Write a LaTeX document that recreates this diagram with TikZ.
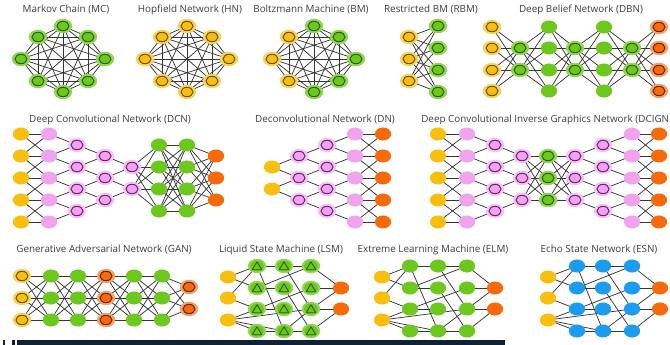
\documentclass[tikz,border=0pt]{standalone}
\usepackage{fontspec}
\setmainfont{Open Sans}
\usetikzlibrary{shapes.geometric}
\definecolor{cy}{HTML}{F8BF0E}
\definecolor{cyh}{HTML}{F6D35C}
\definecolor{cyd}{HTML}{6E5200}
\definecolor{cg}{HTML}{6CC81C}
\definecolor{cgh}{HTML}{8FD653}
\definecolor{cgd}{HTML}{2C6008}
\definecolor{cp}{HTML}{F2A3EF}
\definecolor{cph}{HTML}{F5C3F3}
\definecolor{cpd}{HTML}{6E2275}
\definecolor{co}{HTML}{F76A0C}
\definecolor{coh}{HTML}{F3A06A}
\definecolor{cod}{HTML}{6A2400}
\definecolor{cb}{HTML}{1C9CF0}
\definecolor{ce}{HTML}{353535}
\definecolor{ct}{HTML}{3E3E3E}
\definecolor{cbar}{HTML}{0E2233}
\pgfdeclarelayer{bgl}
\pgfdeclarelayer{edges}
\pgfsetlayers{bgl,edges,main}
\tikzset{
  cell/.style={ellipse, minimum width=12.2pt, minimum height=9.8pt, inner sep=0pt},
  bigcell/.style={ellipse, minimum width=13.8pt, minimum height=10.8pt, inner sep=0pt},
  yel/.style={cell, fill=cy},
  grn/.style={cell, fill=cg},
  pnk/.style={cell, fill=cp},
  org/.style={cell, fill=co},
  blu/.style={cell, fill=cb},
  ringin/.style 2 args={path picture={\draw[#2, line width=0.75pt, fill=#1] (path picture bounding box.center) ellipse [x radius=4.5pt, y radius=3.5pt];}},
  yring/.style={bigcell, fill=cyh, ringin={cy}{cyd}},
  gring/.style={bigcell, fill=cgh, ringin={cg}{cgd}},
  pring/.style={bigcell, fill=cph, ringin={cp}{cpd}},
  oring/.style={bigcell, fill=coh, ringin={co}{cod}},
  tri/.style={bigcell, fill=cgh, path picture={\fill[cg] (path picture bounding box.center) ellipse [x radius=5.2pt, y radius=4.1pt];
      \draw[cgd, line width=0.7pt, line join=round] ([yshift=3.2pt]path picture bounding box.center) -- ++(-3.6pt,-6pt) -- ++(7.2pt,0pt) -- cycle;}},
  title/.style={font=\fontsize{7.4}{9}\selectfont, text=ct, inner sep=0pt},
  lnk/.style={draw=ce, line width=0.55pt}
}
\newcommand\netfull[4]{\foreach \i in {1,...,#2}{\foreach \j in {1,...,#4}{\draw[lnk] (#1\i.center) -- (#3\j.center);}}}
\newcommand\netband[3]{\foreach \i/\j in #3 {\draw[lnk] (#1\i.center) -- (#2\j.center);}}
\newcommand\netclique[1]{\foreach \i in {1,...,7}{\pgfmathtruncatemacro\nxt{\i+1}\foreach \j in {\nxt,...,8}{\draw[lnk] (#1\i.center) -- (#1\j.center);}}}
\newcommand\netsparse[1]{\foreach \a/\b in {Y1/H11,Y1/H12,Y2/H11,Y2/H13,Y3/H13,Y3/H14,Y3/H24,Y3/H33,
  H11/H21,H21/H31,H11/H24,H12/H22,H12/H31,H13/H23,H13/H32,H14/H24,H24/H34,H22/H34,H21/H33,H24/H33,
  H31/O1,H32/O1,H33/O1,H33/O2,H34/O2}{\draw[lnk] (#1\a.center) -- (#1\b.center);}}
\def\pairsFF{1/1,1/2,2/1,2/2,2/3,3/2,3/3,3/4,4/3,4/4,4/5,5/4,5/5}
\def\pairsFQ{1/1,2/1,2/2,3/2,3/3,4/3,4/4,5/4}
\def\pairsQT{1/1,2/1,2/2,3/2,3/3,4/3}
\def\pairsTD{1/1,2/1,2/2,3/2}
\def\pairsDT{1/1,1/2,2/2,2/3}
\def\pairsTQ{1/1,1/2,2/2,2/3,3/3,3/4}
\def\pairsQF{1/1,1/2,2/2,2/3,3/3,3/4,4/4,4/5}
\begin{document}
\begin{tikzpicture}[x=0.75pt,y=-0.75pt]
\begin{pgfonlayer}{bgl}
\fill[white] (0,0) rectangle (670,345);
\end{pgfonlayer}
\useasboundingbox (0,0) rectangle (670,345);

% ---------- titles ----------
\node[title] (tmc) at (66,10) {Markov Chain (MC)};
\node[title] (thn) at (190,10) {Hopfield Network (HN)};
\node[title] (tbm) at (311,10) {Boltzmann Machine (BM)};
\node[title] (trbm) at (431,10) {Restricted BM (RBM)};
\node[title] (tdbn) at (581,10) {Deep Belief Network (DBN)};
\node[title] (tdcn) at (110,120) {Deep Convolutional Network (DCN)};
\node[title] (tdn) at (325,120) {Deconvolutional Network (DN)};
\node[title, anchor=west] (tdcign) at (421,120) {Deep Convolutional Inverse Graphics Network (DCIGN};
\node[title] (tgan) at (104,250) {Generative Adversarial Network (GAN)};
\node[title] (tlsm) at (281,250) {Liquid State Machine (LSM)};
\node[title] (telm) at (433,250) {Extreme Learning Machine (ELM)};
\node[title] (tesn) at (599,250) {Echo State Network (ESN)};

% ---------- MC / HN / BM ----------
\foreach \dx/\dy [count=\i] in {0/-33,25/-22,42/0,25/22,0/33,-25/22,-42/0,-25/-22}{
  \node[gring] (mc\i) at ({63+(\dx)},{59+(\dy)}) {};
  \node[yring] (hn\i) at ({187+(\dx)},{59+(\dy)}) {};
}
\foreach \dx/\dy/\st [count=\i] in {0/-33/gring,25/-22/gring,42/0/gring,25/22/gring,0/33/gring,-25/22/yring,-42/0/yring,-25/-22/yring}{
  \node[\st] (bm\i) at ({314+(\dx)},{59+(\dy)}) {};
}
% ---------- RBM ----------
\foreach \y [count=\i] in {37,59,81} \node[yring] (rbmA\i) at (409,\y) {};
\foreach \y [count=\i] in {26,48,70,92} \node[gring] (rbmB\i) at (438,\y) {};
% ---------- DBN ----------
\foreach \y [count=\i] in {27,48,70,91}{
  \node[yring] (dbnA\i) at (492,\y) {};
  \node[grn] (dbnC\i) at (549,\y) {};
  \node[grn] (dbnE\i) at (604,\y) {};
  \node[oring] (dbnG\i) at (659,\y) {};
}
\foreach \y [count=\i] in {48,70}{
  \node[gring] (dbnB\i) at (520,\y) {};
  \node[gring] (dbnD\i) at (575,\y) {};
  \node[gring] (dbnF\i) at (632,\y) {};
}
% ---------- DCN ----------
\foreach \y [count=\i] in {134,156,178,200,222}{
  \node[yel] (dcnA\i) at (21,\y) {};
  \node[pnk] (dcnB\i) at (49,\y) {};
}
\foreach \y [count=\i] in {145,167,189,211}{
  \node[pring] (dcnC\i) at (77,\y) {};
  \node[grn] (dcnF\i) at (159,\y) {};
  \node[grn] (dcnG\i) at (187,\y) {};
}
\foreach \y [count=\i] in {156,178,200}{
  \node[pring] (dcnD\i) at (105,\y) {};
  \node[org] (dcnH\i) at (216,\y) {};
}
\foreach \y [count=\i] in {167,189} \node[pring] (dcnE\i) at (132,\y) {};
% ---------- DN ----------
\foreach \y [count=\i] in {167,189} \node[yel] (dnA\i) at (272,\y) {};
\foreach \y [count=\i] in {156,178,200} \node[pring] (dnB\i) at (299,\y) {};
\foreach \y [count=\i] in {145,167,189,211} \node[pring] (dnC\i) at (327,\y) {};
\foreach \y [count=\i] in {134,156,178,200,222}{
  \node[pnk] (dnD\i) at (355,\y) {};
  \node[org] (dnE\i) at (383,\y) {};
}
% ---------- DCIGN ----------
\foreach \y [count=\i] in {134,156,178,200,222}{
  \node[yel] (dgA\i) at (438,\y) {};
  \node[pnk] (dgB\i) at (467,\y) {};
  \node[pnk] (dgH\i) at (632,\y) {};
  \node[org] (dgI\i) at (659,\y) {};
}
\foreach \y [count=\i] in {145,167,189,211}{
  \node[pring] (dgC\i) at (495,\y) {};
  \node[pring] (dgG\i) at (603,\y) {};
}
\foreach \y [count=\i] in {156,178,200}{
  \node[pring] (dgD\i) at (522,\y) {};
  \node[gring] (dgE\i) at (548,\y) {};
  \node[pring] (dgF\i) at (575,\y) {};
}
% ---------- GAN ----------
\foreach \y [count=\i] in {276,298,320}{
  \node[yring] (ganA\i) at (22,\y) {};
  \node[grn] (ganB\i) at (51,\y) {};
  \node[grn] (ganC\i) at (78,\y) {};
  \node[oring] (ganD\i) at (106,\y) {};
  \node[grn] (ganE\i) at (134,\y) {};
  \node[grn] (ganF\i) at (162,\y) {};
}
\foreach \y [count=\i] in {287,309} \node[oring] (ganG\i) at (189,\y) {};
% ---------- LSM / ELM / ESN ----------
\foreach \y [count=\i] in {277,298,320}{
  \node[yel] (lsmY\i) at (228,\y) {};
  \node[yel] (elmY\i) at (382,\y) {};
  \node[yel] (esnY\i) at (548,\y) {};
}
\foreach \y [count=\r] in {266,288,309,331}{
  \foreach \xl/\xe/\xs [count=\c] in {257/410/577,284/438/603,311/467/632}{
    \node[tri] (lsmH\c\r) at (\xl,\y) {};
    \node[grn] (elmH\c\r) at (\xe,\y) {};
    \node[blu] (esnH\c\r) at (\xs,\y) {};
  }
}
\foreach \y [count=\i] in {288,309}{
  \node[org] (lsmO\i) at (341,\y) {};
  \node[org] (elmO\i) at (495,\y) {};
  \node[org] (esnO\i) at (660,\y) {};
}

% ---------- connectors ----------
\begin{pgfonlayer}{edges}
\netclique{mc}
\netclique{hn}
\netclique{bm}
\netfull{rbmA}{3}{rbmB}{4}
\netfull{dbnA}{4}{dbnB}{2}
\netfull{dbnB}{2}{dbnC}{4}
\netfull{dbnC}{4}{dbnD}{2}
\netfull{dbnD}{2}{dbnE}{4}
\netfull{dbnE}{4}{dbnF}{2}
\netfull{dbnF}{2}{dbnG}{4}
\netband{dcnA}{dcnB}{\pairsFF}
\netband{dcnB}{dcnC}{\pairsFQ}
\netband{dcnC}{dcnD}{\pairsQT}
\netband{dcnD}{dcnE}{\pairsTD}
\netfull{dcnE}{2}{dcnF}{4}
\netfull{dcnF}{4}{dcnG}{4}
\netfull{dcnG}{4}{dcnH}{3}
\netband{dnA}{dnB}{\pairsDT}
\netband{dnB}{dnC}{\pairsTQ}
\netband{dnC}{dnD}{\pairsQF}
\netband{dnD}{dnE}{\pairsFF}
\netband{dgA}{dgB}{\pairsFF}
\netband{dgB}{dgC}{\pairsFQ}
\netband{dgC}{dgD}{\pairsQT}
\netfull{dgD}{3}{dgE}{3}
\netfull{dgE}{3}{dgF}{3}
\netband{dgF}{dgG}{\pairsTQ}
\netband{dgG}{dgH}{\pairsQF}
\netband{dgH}{dgI}{\pairsFF}
\netfull{ganA}{3}{ganB}{3}
\netfull{ganB}{3}{ganC}{3}
\netfull{ganC}{3}{ganD}{3}
\netfull{ganD}{3}{ganE}{3}
\netfull{ganE}{3}{ganF}{3}
\netfull{ganF}{3}{ganG}{2}
\netsparse{lsm}
\netsparse{elm}
\netsparse{esn}
\end{pgfonlayer}

% ---------- bottom strip ----------
\fill[cbar] (17,340) rectangle (505,345);
\fill[cbar] (3,340) rectangle (4.5,345);
\fill[cbar] (12,340) rectangle (15,345);
\end{tikzpicture}
\end{document}
